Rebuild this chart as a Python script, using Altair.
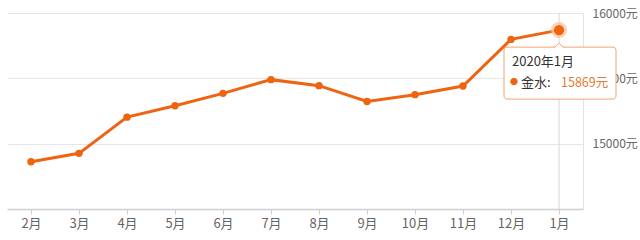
import altair as alt
import pandas as pd

months = ["2月", "3月", "4月", "5月", "6月", "7月", "8月", "9月", "10月", "11月", "12月", "1月"]
values = [14862, 14926, 15203, 15290, 15385, 15490, 15444, 15323, 15375, 15441, 15798, 15869]
series_name = "金水"
hi_month = "1月"
hi_title = "2020年1月"
y_ticks = [15000, 15500, 16000]

df = pd.DataFrame({"month": months, "value": values})
hi = df[df["month"] == hi_month].copy()
hi["title"] = hi_title
hi["name"] = series_name + ":"
hi["vtext"] = hi["value"].astype(str) + "元"
hi["dot"] = "●"

FONT = "Noto Sans CJK SC"
ORANGE = "#ee6411"

x = alt.X("month:N", sort=months, scale=alt.Scale(type="point", padding=0.5),
          axis=alt.Axis(title=None, labelAngle=0, labelAlign="center", labelBaseline="top",
                        domainColor="#cfcfcf", domainWidth=1.5,
                        tickColor="#cfcfcf", tickSize=5, labelPadding=3, labelColor="#666",
                        labelFont=FONT, labelFontSize=13, grid=False))
y = alt.Y("value:Q", scale=alt.Scale(domain=[14500, 16000], nice=False, zero=False),
          axis=alt.Axis(title=None, orient="right", values=y_ticks, format="d",
                        labelExpr="datum.label + '元'", ticks=False, labelPadding=9,
                        domainColor="#e3e3e3", gridColor="#e6e6e6", labelColor="#666",
                        labelFont=FONT, labelFontSize=12))

base = alt.Chart(df).encode(x=x, y=y)

rule = alt.Chart(hi).mark_rule(color="#d6d6d6", strokeWidth=1).encode(
    x=alt.X("month:N", sort=months), y=alt.value(0), y2=alt.value(196))
line = base.mark_line(color=ORANGE, strokeWidth=3)
pts = base.mark_circle(color=ORANGE, size=55, opacity=1)

hib = alt.Chart(hi).encode(x=alt.X("month:N", sort=months), y=alt.Y("value:Q"))
halo = hib.mark_circle(color="#f9c4a0", size=260, opacity=0.75)
hidot = hib.mark_circle(color=ORANGE, size=105, opacity=1)
box = hib.mark_rect(width=112, height=52, xOffset=1, yOffset=43, fill="white",
                    stroke="#f0a673", strokeWidth=1, cornerRadius=3)
tri = hib.mark_point(shape="M-1,0L0,-1L1,0", size=100, filled=False, fill="white",
                     fillOpacity=1, stroke="#f0a673", strokeWidth=1, yOffset=18, opacity=1)
t1 = hib.mark_text(align="left", baseline="middle", dx=-47, dy=32, font=FONT, fontSize=13,
                   color="#333").encode(text="title:N")
tdot = hib.mark_text(align="center", baseline="middle", dx=-45, dy=53, font=FONT, fontSize=8,
                     color=ORANGE).encode(text="dot:N")
t2 = hib.mark_text(align="left", baseline="middle", dx=-38, dy=53, font=FONT, fontSize=13,
                   color="#333").encode(text="name:N")
t3 = hib.mark_text(align="left", baseline="middle", dx=2, dy=53, font=FONT, fontSize=12.5,
                   color="#e57a35").encode(text="vtext:N")

chart = alt.layer(rule, line, pts, halo, hidot, box, tri, t1, tdot, t2, t3).properties(
    width=576, height=196,
    autosize=alt.AutoSizeParams(type="none"),
    padding={"left": 7, "top": 13, "right": 57, "bottom": 31},
    background="white",
).configure_view(stroke=None)

chart.save("out.html", embed_options={"renderer": "svg", "actions": False})
